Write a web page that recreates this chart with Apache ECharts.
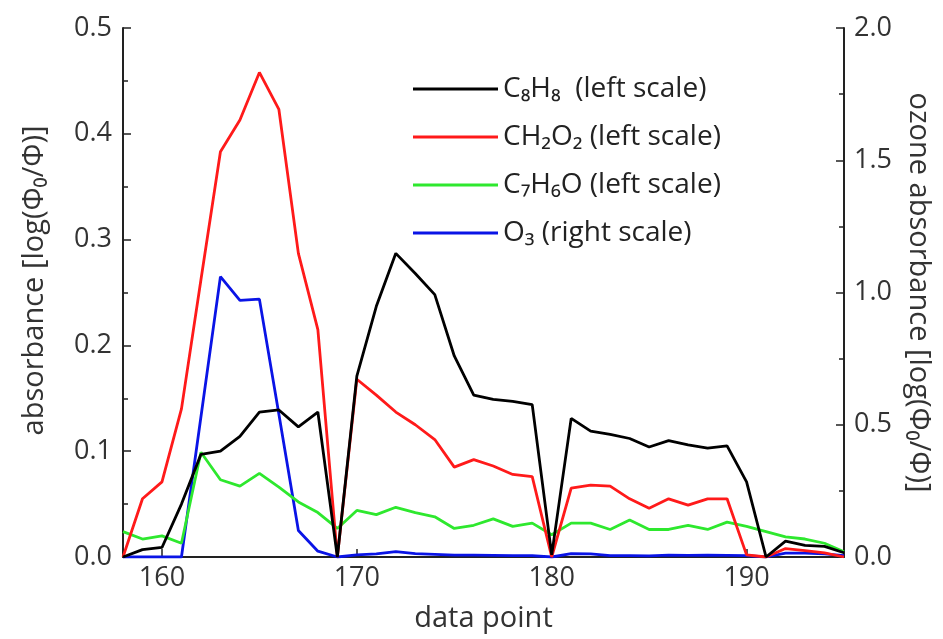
<!DOCTYPE html>
<html>
<head>
<meta charset="utf-8">
<script src="https://cdn.jsdelivr.net/npm/echarts@6/dist/echarts.min.js"></script>
<style>
  html, body { margin: 0; padding: 0; background: #fff; }
  #chart { width: 943px; height: 639px; }
</style>
</head>
<body>
<div id="chart"></div>
<script>
// data point index (x axis)
const xPoints = [158, 159, 160, 161, 162, 163, 164, 165, 166, 167, 168, 169, 170, 171, 172, 173, 174, 175, 176,
  177, 178, 179, 180, 181, 182, 183, 184, 185, 186, 187, 188, 189, 190, 191, 192, 193, 194, 195];

// left scale
const c8h8 = [0.0, 0.007, 0.009, 0.05, 0.097, 0.100, 0.114, 0.137, 0.139, 0.123, 0.137, 0.0, 0.171, 0.237, 0.287,
  0.268, 0.248, 0.190, 0.153, 0.149, 0.147, 0.144, 0.002, 0.131, 0.119, 0.116, 0.112, 0.104, 0.110, 0.106, 0.103,
  0.105, 0.071, 0.0, 0.015, 0.011, 0.010, 0.004];
const ch2o2 = [0.0, 0.055, 0.071, 0.140, 0.262, 0.383, 0.413, 0.458, 0.423, 0.287, 0.215, 0.0, 0.168, 0.153, 0.137,
  0.125, 0.111, 0.085, 0.092, 0.086, 0.078, 0.076, 0.0, 0.065, 0.068, 0.067, 0.055, 0.046, 0.055, 0.049, 0.055,
  0.055, 0.002, 0.0, 0.008, 0.006, 0.004, 0.0];
const c7h6o = [0.024, 0.017, 0.020, 0.013, 0.099, 0.073, 0.067, 0.079, 0.066, 0.052, 0.042, 0.027, 0.044, 0.040,
  0.047, 0.042, 0.038, 0.027, 0.030, 0.036, 0.029, 0.032, 0.021, 0.032, 0.032, 0.026, 0.035, 0.026, 0.026, 0.030,
  0.026, 0.033, 0.029, 0.024, 0.019, 0.017, 0.013, 0.005];
// right scale
const o3 = [0, 0, 0, 0, 0.53, 1.06, 0.97, 0.975, 0.54, 0.10, 0.022, 0, 0.008, 0.012, 0.02, 0.013, 0.01, 0.007,
  0.007, 0.006, 0.005, 0.005, 0, 0.013, 0.012, 0.005, 0.005, 0.004, 0.007, 0.006, 0.007, 0.006, 0.005, 0, 0.015,
  0.015, 0.012, 0.005];

const xTicks = [160, 170, 180, 190];
const seriesNames = ['C₈H₈  (left scale)', 'CH₂O₂ (left scale)', 'C₇H₆O (left scale)', 'O₃ (right scale)'];
const seriesColors = ['#000000', '#ff1a1a', '#2ee82e', '#0a14e6'];

function pairs(ys) {
  return xPoints.map((x, i) => [x, ys[i]]);
}

let myChart = echarts.init(document.getElementById('chart'));

const tickFont = { fontFamily: 'Open Sans', fontSize: 27, color: '#333' };
const titleFont = { fontFamily: 'Open Sans', fontSize: 29, color: '#333' };

myChart.setOption({
  animation: false,
  grid: {
    left: 123,
    right: 99,
    top: 28,
    bottom: 82
  },
  legend: {
    orient: 'vertical',
    left: 408,
    top: 67,
    icon: 'rect',
    itemWidth: 85,
    itemHeight: 3,
    itemGap: 14,
    data: seriesNames,
    textStyle: {
      fontFamily: 'Open Sans',
      fontSize: 28,
      color: '#222',
      lineHeight: 34
    }
  },
  xAxis: {
    type: 'value',
    min: 158,
    max: 195,
    name: 'data point',
    nameLocation: 'middle',
    nameGap: 47,
    nameTextStyle: titleFont,
    axisLine: { lineStyle: { color: '#222', width: 2 } },
    axisTick: {
      inside: true,
      length: 8,
      customValues: xTicks,
      lineStyle: { color: '#222', width: 1.5 }
    },
    axisLabel: Object.assign({
      customValues: xTicks,
      margin: 8
    }, tickFont),
    splitLine: { show: false }
  },
  yAxis: [{
    type: 'value',
    min: 0,
    max: 0.5,
    interval: 0.1,
    name: 'absorbance [log(Φ₀/Φ)]',
    nameLocation: 'middle',
    nameGap: 74,
    nameTextStyle: Object.assign({ padding: [0, 0, 0, 24] }, titleFont),
    axisLine: { show: true, lineStyle: { color: '#222', width: 2 } },
    axisTick: { inside: true, length: 8, lineStyle: { color: '#222', width: 1.5 } },
    minorTick: { show: true, splitNumber: 2, length: 5, lineStyle: { color: '#222', width: 1.5 } },
    axisLabel: Object.assign({
      margin: 11,
      formatter: (v) => v.toFixed(1)
    }, tickFont),
    splitLine: { show: false }
  }, {
    type: 'value',
    min: 0,
    max: 2,
    interval: 0.5,
    position: 'right',
    name: 'ozone absorbance [log(Φ₀/Φ)]',
    nameLocation: 'middle',
    nameRotate: -90,
    nameGap: 60,
    nameTextStyle: titleFont,
    axisLine: { show: true, lineStyle: { color: '#222', width: 2 } },
    axisTick: { inside: true, length: 8, lineStyle: { color: '#222', width: 1.5 } },
    minorTick: { show: true, splitNumber: 2, length: 5, lineStyle: { color: '#222', width: 1.5 } },
    axisLabel: Object.assign({
      margin: 10,
      formatter: (v) => v.toFixed(1)
    }, tickFont),
    splitLine: { show: false }
  }],
  series: [c8h8, ch2o2, c7h6o, o3].map((ys, i) => ({
    name: seriesNames[i],
    type: 'line',
    yAxisIndex: i === 3 ? 1 : 0,
    symbol: 'none',
    data: pairs(ys),
    lineStyle: { color: seriesColors[i], width: 2.8 },
    itemStyle: { color: seriesColors[i] },
    z: i === 3 ? 1 : 4 - i
  }))
});
window.onresize = myChart.resize;
</script>
</body>
</html>
